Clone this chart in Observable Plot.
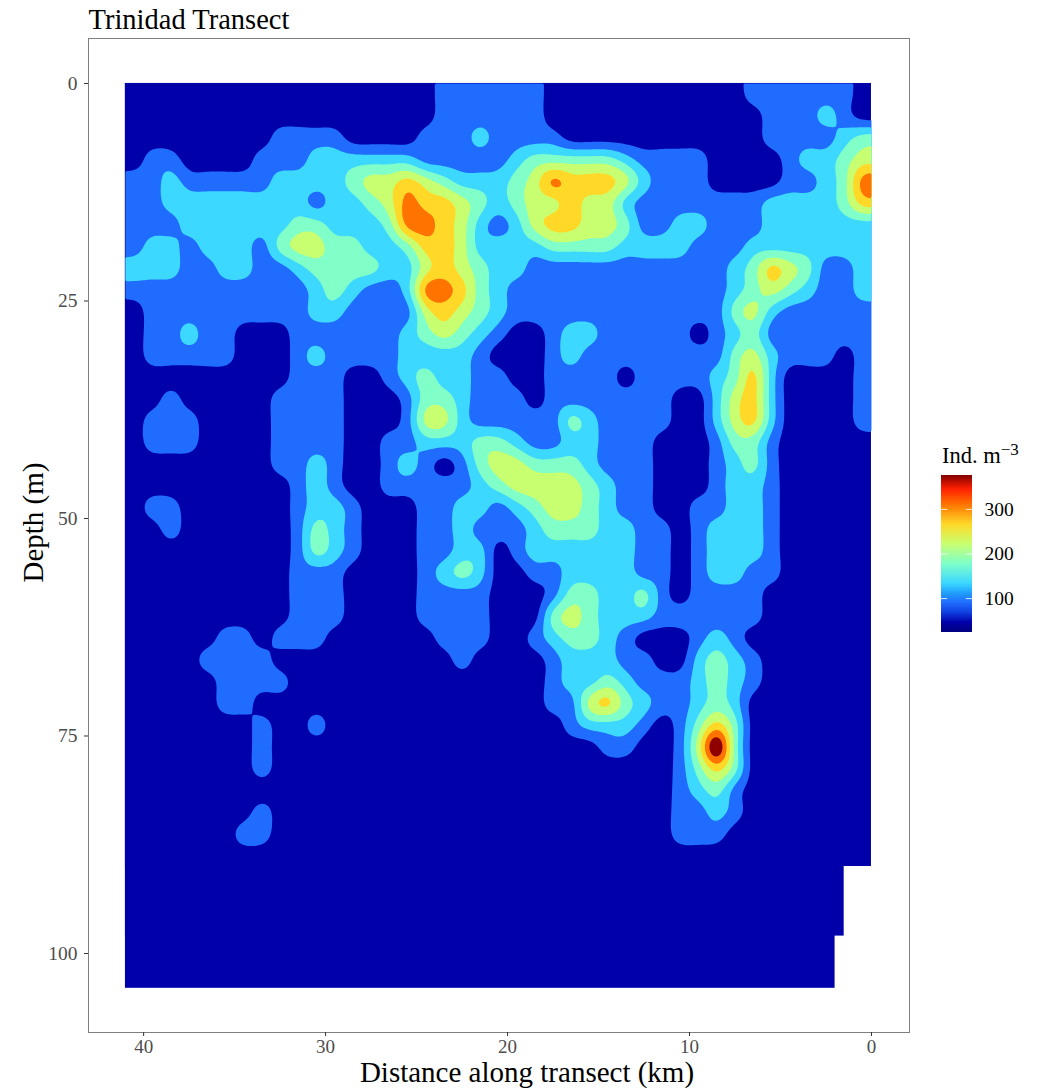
<!DOCTYPE html>
<html>
<head>
<meta charset="utf-8">
<script src="https://cdn.jsdelivr.net/npm/d3@7"></script>
<script src="https://cdn.jsdelivr.net/npm/@observablehq/plot@0.6"></script>
<style>
html,body{margin:0;padding:0;background:#fff}
#root{position:relative;width:1043px;height:1088px;overflow:hidden;font-family:"Liberation Serif",serif}
#root svg{overflow:visible;background:transparent}
#main{position:absolute;left:0;top:0}
#legendTitle{position:absolute;left:942px;top:443px;font-size:22.5px;color:#000;line-height:26px;white-space:nowrap}
#legendTitle sup{font-size:17px;line-height:0;vertical-align:baseline;position:relative;top:-8px}
#legend{position:absolute;left:941px;top:475px}
</style>
</head>
<body>
<div id="root"><div id="main"></div><div id="legendTitle">Ind. m<sup>−3</sup></div><div id="legend"></div></div>
<script>
// Band index sampled every 1 km (41 → 0 km, left to right) and every 2.5 m of depth (0 → 90 m)
const gridRows = [
"00000000000000000 111111 00000000000 111111 0",
"00000000000000000 111111 000000000000 111 2 1 0",
"00000000 1111 0000 111 2 1111 00000000000 1111 2 3",
"0 11 0000 111 222222 11111 2 33333 2 1111 0000 1 22 3 4",
"11 2 1 1111 2222 3 44 5 4 3 222 3 4 6 555 4 2 111 0000 11 2 3 6",
"11 2 2222222 1 22 3 4 6 55 4 3 2 3 44 5 44 2 1 111111 2222 3 5",
"111 222222 33 222 3 66 5 4 2 1 2 4 55 44 3 11 22 111 222222",
"1221222134433223554 2222 3333 2222 111 2222222",
"222 11 22 11 2 3333 22 4 5 4 3 22 11111111111 2 3 5 4 3 11 2",
"1111111111 2 3 2 11 2 6 6 5 3 2 111111111111 2 3 4 3 2 11 2",
"0 111111111 22 1111 4 5 4 3 2 111111111111 3 4 2 11111",
"0 11 2 11 000 1 11111 2 3 4 3 2 1 00 1 22 11111 0 1 2 3 1 11111",
"0 11111 000 1 2 1111 2222 1 000 1 2 11111111 3 4 2 111 0 1",
"000000000 111 00 1 2 3 22 11 00 1111 0 1111 2 3 5 2 0000 1",
"00 1 00000 1111 000 1 33 2 111 0 1111111 00 2 4 5 2 0000 1",
"0 111 0000 1111 000 1 44 2 11111 3 2 1111 00 2 4 5 2 0000 1",
"0 111 0000 1111 00 11 222 33 2 11 22 111 000 1 33 1 00000",
"00000000 11 2 1 00 1 2 1 0 1 3 44 333 2 111 000 1 2 3 1 00000",
"000000000 1 2 1 00 11111 2 3 4444 3 2 11 000 1 22 1 00000",
"0 11 000000 1 22 1 000 11 22 1 2 3 44 3 2 11 00 11 22 1 00000",
"00 1 000000 1 3 2 1 000 11 2 111 2 333 22 11 0 1 222 1 00000",
"000000000 1 3 2 1 000 11 22 0 1 222222 11 0 1 222 1 00000",
"000000000 111 0000 1 2 3 2 00 11 2222 11 0 1 22 11 00000",
"000000000 111 0000 1111 000 1 33 22 3 1 0 1111 000000",
"000000000 111 0000 1111 000 3 4 3 222 111111 000000",
"00000 11 0 111 000000 111 00 1 2 33 2 1 000 1 2 1 0000000",
"0000 1111 0000000000 1 0000 1 222 11 00 2 3 2 1 000000",
"00000 1111 00000000000000 1 22 3 2 111 2 3 2 1 000000",
"00000 11 0000000000000000 11 4 5 3 2 11 2 3 2 0000000",
"0000000 1 00 1 0000000000000 1 222 1 0 1 3 5 3 0000000",
"0000000 1 000000000000000000 11 00 1 4 8 3 0000000",
"0000000 1 0000000000000000000000 1 3 5 3 0000000",
"000000000000000000000000000000 1 2 3 1 0000000",
"0000000 1 0000000000000000000000 11 2 1 0000000",
"000000 11 0000000000000000000000 111 00000000",
"00000000000000000000000000000000000000000"
];
const bandLevels = [46, 90, 134, 178, 222, 266, 310, 354, 398];
const bandColors = ["#0000AA", "#206CFF", "#3CD8FF", "#80FFC8", "#C8FF70", "#FFD828", "#FF7400", "#8E0000"];
const thresholdValues = [68, 112, 156, 200, 244, 288, 332];
// Sampled extent of the transect: nearest km and the deepest depth reached from there on
const extentKmFrom = [0, 1.5, 2];
const extentDepth = [90, 98, 104];
const xTicks = [40, 30, 20, 10, 0];
const yTicks = [0, 25, 50, 75, 100];
const legendTicks = [100, 200, 300];
const legendStops = [24, 46, 68, 90, 112, 134, 178, 222, 266, 310, 345, 376];
const legendStopColors = ["#00007F", "#0000AA", "#1040E0", "#206CFF", "#20A0FF", "#3CD8FF", "#80FFC8", "#C8FF70", "#FFD828", "#FF7400", "#FF2000", "#800000"];

const rowsN = gridRows.length, cols = 41;
const grid = gridRows.map(r => [...r.replace(/ /g, "")].map(c => bandLevels[+c]));
const at = (i, j) => grid[Math.max(0, Math.min(rowsN - 1, i))][Math.max(0, Math.min(cols - 1, j))];
const cr = (a, b, c, d, t) => b + 0.5 * t * (c - a + t * (2 * a - 5 * b + 4 * c - d + t * (3 * (b - c) + d - a)));
// Smooth reading of the sampled grid between its samples
function sampled(km, depth) {
  const gx = 40.5 - km, gy = depth / 2.5 - 0.5;
  const j = Math.floor(gx), i = Math.floor(gy), tx = gx - j, ty = gy - i;
  const row = k => cr(at(k, j - 1), at(k, j), at(k, j + 1), at(k, j + 2), tx);
  return cr(row(i - 1), row(i), row(i + 1), row(i + 2), ty);
}
const extent = extentKmFrom.map((k, i) => ({a: k, d: extentDepth[i]}));

const serif = "Liberation Serif";
const chart = Plot.plot({
  width: 1043, height: 1088,
  marginLeft: 88, marginRight: 134, marginTop: 38, marginBottom: 56,
  style: {fontFamily: serif, background: "transparent"},
  x: {domain: [43.03, -2.09], label: null},
  y: {domain: [109.08, -5.17], label: null},
  color: {type: "threshold", domain: thresholdValues, range: bandColors},
  marks: [
    Plot.rect(extent, {x1: "a", x2: 41, y1: 0, y2: "d", fill: () => bandLevels[0]}),
    Plot.contour({
      x1: 0, x2: 41, y1: 0, y2: 90,
      fill: sampled,
      pixelSize: 2,
      blur: 2,
      thresholds: thresholdValues
    }),
    Plot.frame({stroke: "#7f7f7f", strokeWidth: 1}),
    Plot.axisX({ticks: xTicks, tickFormat: d => d, tickSize: 4, tickPadding: 3, fontSize: 19, stroke: "#333", color: "#4d4d4d", label: null}),
    Plot.axisY({ticks: yTicks, tickFormat: d => d, tickSize: 4, tickPadding: 7, fontSize: 19.5, stroke: "#333", color: "#4d4d4d", label: null}),
    Plot.text(["Distance along transect (km)"], {frameAnchor: "bottom", dx: 28, dy: 49, fontSize: 29, fill: "#000", fontFamily: serif}),
    Plot.text(["Depth (m)"], {frameAnchor: "left", textAnchor: "middle", rotate: -90, dx: -55, dy: -13, fontSize: 29, fill: "#000", fontFamily: serif}),
    Plot.text(["Trinidad Transect"], {frameAnchor: "top-left", textAnchor: "start", dx: 0, dy: -30, fontSize: 28.5, fill: "#000", fontFamily: serif})
  ]
});
document.getElementById("main").appendChild(chart);

const rampSteps = d3.range(24, 376, 1);
const legend = Plot.plot({
  width: 102, height: 157,
  marginLeft: 0, marginRight: 71, marginTop: 0, marginBottom: 0,
  style: {fontFamily: serif, background: "transparent"},
  x: {domain: [0, 1], axis: null},
  y: {domain: [24, 376], axis: null},
  color: {type: "linear", domain: legendStops, range: legendStopColors},
  marks: [
    Plot.rect(rampSteps, {x1: 0, x2: 1, y1: d => d, y2: d => Math.min(376, d + 3), fill: d => d + 0.5, shapeRendering: "crispEdges"}),
    Plot.ruleY(legendTicks, {x1: 0, x2: 0.2, stroke: "#fff", strokeOpacity: 0.8}),
    Plot.ruleY(legendTicks, {x1: 0.8, x2: 1, stroke: "#fff", strokeOpacity: 0.8}),
    Plot.axisY({anchor: "right", ticks: legendTicks, tickSize: 0, tickPadding: 12, fontSize: 19.5, color: "#000", label: null})
  ]
});
document.getElementById("legend").appendChild(legend);
</script>
</body>
</html>
